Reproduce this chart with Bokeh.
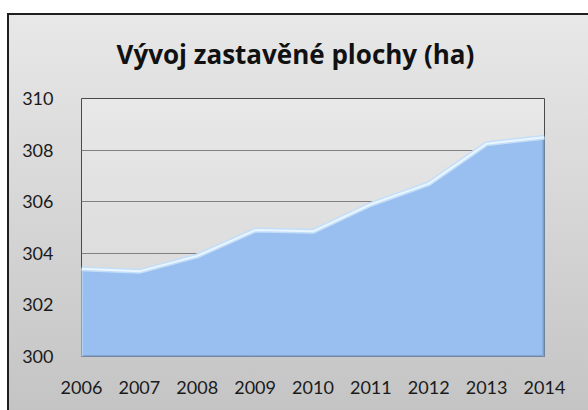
from bokeh.plotting import figure
from bokeh.models import Range1d, FixedTicker, ColumnDataSource
from bokeh.embed import file_html
from bokeh.resources import INLINE

title_text = "Vývoj zastavěné plochy (ha)"
years = [2006, 2007, 2008, 2009, 2010, 2011, 2012, 2013, 2014]
values = [303.4, 303.3, 303.9, 304.9, 304.85, 305.9, 306.7, 308.25, 308.5]
y_ticks = [300, 302, 304, 306, 308, 310]
y_base = 300

src = ColumnDataSource(dict(x=years, y=values, base=[y_base] * len(years)))

p = figure(width=588, height=410, output_backend="svg", toolbar_location=None,
           x_range=Range1d(years[0], years[-1]), y_range=Range1d(y_ticks[0], y_ticks[-1]),
           min_border_left=81, min_border_top=98, min_border_right=44, min_border_bottom=54)

p.styles = {
    "background": "linear-gradient(#1e1e1e,#1e1e1e) 7px 13px / 100% 2px no-repeat, "
                  "linear-gradient(#1e1e1e,#1e1e1e) 7px 13px / 2px 100% no-repeat, "
                  "linear-gradient(#e8e8e8, #c3c3c3) 7px 13px / 100% 100% no-repeat, white"
}
p.border_fill_color = None
p.background_fill_color = "white"
p.background_fill_alpha = 0.25
p.outline_line_color = "#4a4a4a"
p.outline_line_width = 1

p.title.text = title_text
p.title.align = "left"
p.title.text_font = "Open Sans"
p.title.text_font_style = "bold"
p.title.text_font_size = "26px"
p.title.text_color = "#111111"
p.title.standoff = 53
p.title.offset = 35

# area with bevel look
p.varea(x="x", y1="base", y2="y", source=src, fill_color="#99bff0")
p.segment(x0=years[-1], y0=y_base, x1=years[-1], y1=values[-1],
          line_color="#7f9fca", line_width=4)
p.segment(x0=years[0], y0=y_base, x1=years[-1], y1=y_base,
          line_color="#86a6cf", line_width=3)
p.segment(x0=years[0], y0=y_base, x1=years[0], y1=values[0],
          line_color="#b5d3f6", line_width=3)
p.line(x="x", y="y", source=src, line_color="#c4def8", line_width=5)
p.line(x="x", y="y", source=src, line_color="#eaf6ff", line_width=2)

p.xaxis.ticker = FixedTicker(ticks=years)
p.yaxis.ticker = FixedTicker(ticks=y_ticks)
for ax in (p.xaxis[0], p.yaxis[0]):
    ax.axis_line_color = None
    ax.major_tick_line_color = None
    ax.minor_tick_line_color = None
    ax.major_label_text_font = "Lato"
    ax.major_label_text_font_size = "18px"
    ax.major_label_text_color = "#1a1a1a"
p.xaxis.major_label_standoff = 18
p.yaxis.major_label_standoff = 22

p.xgrid.grid_line_color = None
p.ygrid.grid_line_color = "#808080"
p.ygrid.grid_line_width = 1

open("out.html", "w").write(file_html(p, INLINE))
